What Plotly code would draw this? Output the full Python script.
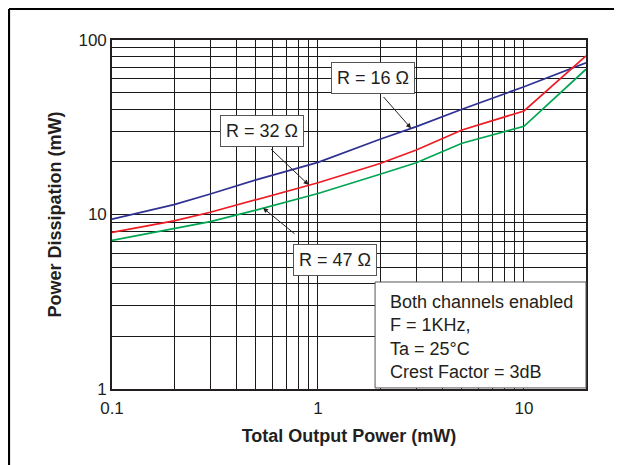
import math
import plotly.graph_objects as go

# ---- data ----
output_power = [0.1, 0.2, 0.3, 0.5, 1, 2, 3, 5, 10, 20]
r16 = [9.4, 11.4, 13.1, 15.8, 19.9, 27.0, 31.9, 40.1, 54.0, 74.0]
r32 = [7.9, 9.2, 10.3, 12.1, 15.2, 19.6, 23.4, 30.5, 39.2, 81.0]
r47 = [7.1, 8.3, 9.1, 10.6, 13.2, 17.0, 19.8, 25.6, 32.0, 68.0]

x_tickvals = [0.1, 0.2, 0.3, 0.4, 0.5, 0.6, 0.7, 0.8, 0.9,
              1, 2, 3, 4, 5, 6, 7, 8, 9, 10, 20]
x_ticktext = ["0.1", "", "", "", "", "", "", "", "",
              "1", "", "", "", "", "", "", "", "", "10", ""]
y_tickvals = [1, 2, 3, 4, 5, 6, 7, 8, 9,
              10, 20, 30, 40, 50, 60, 70, 80, 90, 100]
y_ticktext = ["1", "", "", "", "", "", "", "", "",
              "10", "", "", "", "", "", "", "", "", "100"]

series_labels = ["R = 16 Ω", "R = 32 Ω", "R = 47 Ω"]
info_lines = ["Both channels enabled", "F = 1KHz,", "Ta = 25°C", "Crest Factor = 3dB"]

colors = ["#2e3192", "#ed1c24", "#00a651"]
FONT = "Liberation Sans, Arial, sans-serif"
INK = "#231f20"

fig = go.Figure()
for ys, c, name in zip([r16, r32, r47], colors, series_labels):
    fig.add_trace(go.Scatter(x=output_power, y=ys, mode="lines", name=name,
                             line=dict(color=c, width=1.7), showlegend=False))

axis_common = dict(type="log", showgrid=True, gridcolor="#1a1a1a", gridwidth=1.1,
                   showline=True, linecolor=INK, linewidth=1.6, mirror=True,
                   ticks="", zeroline=False,
                   tickfont=dict(family=FONT, size=17, color=INK))

fig.update_xaxes(**axis_common, range=[-1, 1.30103], tickmode="array",
                 tickvals=x_tickvals, ticktext=x_ticktext, ticklabelstandoff=3,
                 title=dict(text="<b>Total Output Power (mW)</b>", standoff=12,
                            font=dict(family=FONT, size=18, color=INK)))
fig.update_yaxes(**axis_common, range=[0, 2], tickmode="array",
                 tickvals=y_tickvals, ticktext=y_ticktext,
                 title=dict(text="<b>Power Dissipation (mW)</b>", standoff=12,
                            font=dict(family=FONT, size=18, color=INK)))

# label boxes
box_pos = [(0.551, 0.891), (0.3175, 0.739), (0.4705, 0.371)]
for (bx, by), txt in zip(box_pos, series_labels):
    fig.add_annotation(xref="paper", yref="paper", x=bx, y=by, text=txt,
                       showarrow=False, xanchor="center", yanchor="middle",
                       font=dict(family=FONT, size=18, color=INK),
                       bgcolor="white", bordercolor="#555555", borderwidth=1,
                       borderpad=4, width=74, height=22)

# arrows (head on curve given in data units, tail offset in px)
arrows = [(2.83, 31.2, -29, -33), (0.9, 14.8, -39, -37), (0.541, 10.9, 33, 27)]
for hx, hy, axp, ayp in arrows:
    fig.add_annotation(x=math.log10(hx), y=math.log10(hy), xref="x", yref="y",
                       ax=axp, ay=ayp, text=" ", font=dict(size=1),
                       showarrow=True, arrowhead=2, arrowsize=1, arrowwidth=1,
                       arrowcolor=INK)

# info box
fig.add_shape(type="rect", xref="paper", yref="paper", x0=0.555, x1=1.0,
              y0=0.003, y1=0.3066, fillcolor="white",
              line=dict(color="#555555", width=1), layer="above")
fig.add_annotation(xref="paper", yref="paper", x=0.582, y=0.150,
                   text="<br>".join(info_lines), showarrow=False,
                   xanchor="left", yanchor="middle", align="left",
                   font=dict(family=FONT, size=18, color=INK))

# outer frame (top and left edges visible); page body adds an 8px offset
ML, MT = 104, 32
frame_left = (1 - ML) / 474
frame_top = 1 + (MT - 1) / 349
fig.add_shape(type="line", xref="paper", yref="paper",
              x0=frame_left, x1=1.2, y0=frame_top, y1=frame_top,
              line=dict(color="black", width=2.2), layer="above")
fig.add_shape(type="line", xref="paper", yref="paper",
              x0=frame_left, x1=frame_left, y0=-0.3, y1=frame_top,
              line=dict(color="black", width=2.2), layer="above")

fig.update_layout(width=614, height=457, margin=dict(l=ML, r=36, t=MT, b=76),
                  paper_bgcolor="white", plot_bgcolor="white",
                  font=dict(family=FONT, color=INK))

fig.write_html("out.html", config={"displayModeBar": False})
